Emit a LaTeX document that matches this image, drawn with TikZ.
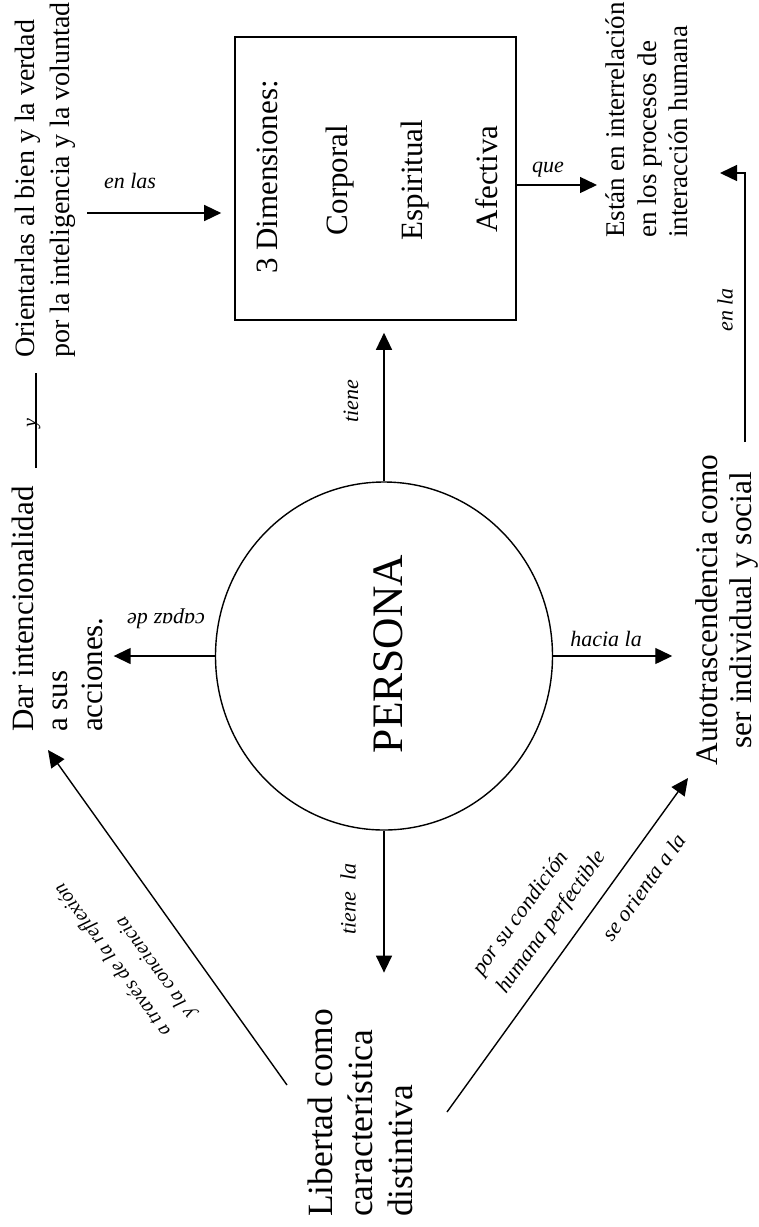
\documentclass[tikz,border=0pt]{standalone}
\usepackage{fontspec}
\setmainfont{Liberation Serif}
\usetikzlibrary{arrows.meta,shapes.geometric}
\newcommand\fsz[2]{\fontsize{#1}{#2}\selectfont}
\tikzset{
  conn/.style={line width=1.4pt},
  arr/.style={conn,-{Triangle[length=17pt,width=16pt]}},
  lbl/.style={inner sep=0pt,font=\fsz{22}{30}\itshape},
  txt/.style={inner sep=0pt,align=left}
}
\begin{document}
\begin{tikzpicture}[x=1pt,y=1pt]
\useasboundingbox (0,0) rectangle (759,-1227);
% box with dimensions
\node[draw,line width=1.6pt,minimum width=281pt,minimum height=283pt,inner sep=0pt] (box) at (375.5,-178.5) {};
\node[txt,rotate=90,font=\fsz{31}{37}] (dim) at (267,-177) {3 Dimensiones:};
\node[txt,rotate=90,font=\fsz{31}{37}] (corp) at (340,-180) {Corporal};
\node[txt,rotate=90,font=\fsz{31}{37}] (esp) at (415,-180) {Espiritual};
\node[txt,rotate=90,font=\fsz{31}{37}] (afe) at (487,-179) {Afectiva};
% central ellipse
\node[draw,ellipse,line width=1.4pt,minimum width=337pt,minimum height=348pt,inner sep=0pt] (persona) at (384,-656) {};
\node[inner sep=0pt,rotate=90,font=\fsz{43.5}{50}] (pname) at (388,-654) {PERSONA};
% text blocks
\node[txt,rotate=90,anchor=west,font=\fsz{28}{34.5}] (ori) at (45.5,-358) {Orientarlas al bien y la verdad\\por la inteligencia y la voluntad};
\node[txt,rotate=90,anchor=west,font=\fsz{27}{31.5}] (est) at (647,-238) {Están en interrelación\\en los procesos de\\interacción humana};
\node[txt,rotate=90,anchor=west,font=\fsz{31}{34.5}] (dar) at (57,-732) {Dar intencionalidad\\a sus\\acciones.};
\node[inner sep=0pt,align=center,rotate=90,font=\fsz{31.4}{34.5}] (auto) at (727,-610) {Autotrascendencia como\\ser individual y social};
\node[txt,rotate=90,anchor=west,font=\fsz{35.5}{40}] (lib) at (360,-1217) {Libertad como\\característica\\distintiva};
% helper coordinates
\coordinate (enlasS) at (87,-213);
\coordinate (queTip) at (597,-185);
\coordinate (libA) at (287,-1085);
\coordinate (darTip) at (48,-750);
\coordinate (libB) at (447,-1112);
\coordinate (autoTip) at (688,-778);
\coordinate (enlaS) at (745,-442);
\coordinate (enlaTip) at (720,-173);
\coordinate (yA) at (36,-468);
\coordinate (yB) at (36,-373);
% connectors
\draw[arr,shorten >=13pt] (enlasS) -- (enlasS -| box.west);
\draw[arr] (queTip -| box.east) -- (queTip);
\draw[arr,shorten >=12pt] (persona.north) -- (persona.north |- box.south);
\draw[arr,shorten >=11pt] (persona.west) -- (persona.west -| dar.south);
\draw[arr,shorten >=23pt] (persona.east) -- (persona.east -| auto.north);
\draw[arr,shorten >=36pt] (persona.south) -- (persona.south |- lib.east);
\draw[arr] (libA) -- (darTip);
\draw[arr] (libB) -- (autoTip);
\draw[arr] (enlaS) |- (enlaTip);
\draw[conn] (yA) -- (yB);
% labels
\node[lbl] (lenlas) at (130,-181) {en las};
\node[lbl] (lque) at (548,-170) {que};
\node[lbl,rotate=90] (ltiene) at (351,-401) {tiene};
\node[lbl,rotate=180] (lcapaz) at (166,-619) {capaz de};
\node[lbl] (lhacia) at (606,-639) {hacia la};
\node[lbl,rotate=90] (ltienela) at (348,-899) {tiene\ \ la};
\node[lbl,rotate=90] (lenla) at (725,-310) {en la};
\node[inner sep=0pt,font=\fsz{20}{24}\itshape,rotate=90,anchor=base] (ly) at (36,-423) {y};
\node[lbl,font=\fsz{20}{30}\itshape,align=left,rotate=126] (ltraves) at (125,-951) {a través de la reflexión\\y la conciencia};
\node[lbl,align=left,rotate=54] (lpor) at (540,-913.5) {por su condición\\humana perfectible};
\node[lbl,rotate=54] (lse) at (644,-887) {se orienta a la};
\end{tikzpicture}
\end{document}
